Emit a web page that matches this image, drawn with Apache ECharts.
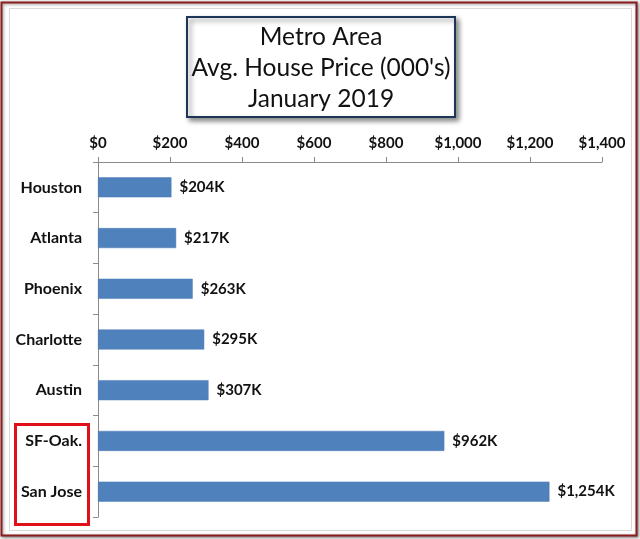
<!DOCTYPE html>
<html>
<head>
<meta charset="utf-8">
<script src="https://cdn.jsdelivr.net/npm/echarts@6/dist/echarts.min.js"></script>
<style>
  html, body { margin: 0; padding: 0; background: #f3f3f3; }
  #main { width: 640px; height: 539px; }
</style>
</head>
<body>
<div id="main"></div>
<script>
// data
var cities = ['Houston', 'Atlanta', 'Phoenix', 'Charlotte', 'Austin', 'SF-Oak.', 'San Jose'];
var prices = [204, 217, 263, 295, 307, 962, 1254];
var titleLines = ['Metro Area', "Avg. House Price (000's)", 'January 2019'];

var FONT = 'Lato, "Open Sans", sans-serif';

var myChart = echarts.init(document.getElementById('main'));

function money(v) {
  return '$' + v.toString().replace(/\B(?=(\d{3})+(?!\d))/g, ',');
}

var option = {
  backgroundColor: 'transparent',
  animation: false,
  grid: { left: 98, right: 38, top: 162, bottom: 22, containLabel: false },
  xAxis: {
    type: 'value',
    position: 'top',
    min: 0,
    max: 1400,
    interval: 200,
    axisLine: { show: true, lineStyle: { color: '#8a8a8a', width: 1 } },
    axisTick: { show: true, length: 5, lineStyle: { color: '#8a8a8a' } },
    splitLine: { show: false },
    axisLabel: {
      margin: 11,
      color: '#111',
      fontFamily: FONT,
      fontWeight: 'bold',
      fontSize: 15,
      formatter: function (v) { return money(v); }
    }
  },
  yAxis: {
    type: 'category',
    inverse: true,
    data: cities,
    axisLine: { show: true, lineStyle: { color: '#8a8a8a', width: 1 } },
    axisTick: { show: true, length: 5, lineStyle: { color: '#8a8a8a' } },
    axisLabel: {
      margin: 16,
      color: '#111',
      fontFamily: FONT,
      fontWeight: 'bold',
      fontSize: 16
    }
  },
  series: [{
    type: 'bar',
    data: prices,
    barWidth: 20,
    itemStyle: { color: '#4f81bd', borderColor: '#4a7ab3', borderWidth: 0.5 },
    label: {
      show: true,
      position: 'right',
      distance: 8,
      color: '#111',
      fontFamily: FONT,
      fontWeight: 'bold',
      fontSize: 15,
      formatter: function (p) { return money(p.value) + 'K'; }
    }
  }],
  graphic: [
    // outer dark red frame
    {
      type: 'rect', z: -10,
      shape: { x: 1.5, y: 2.5, width: 635, height: 533 },
      style: { fill: '#fff', stroke: '#8b1c1c', lineWidth: 2,
               shadowBlur: 3, shadowColor: 'rgba(0,0,0,0.45)', shadowOffsetX: 1, shadowOffsetY: 1 }
    },
    // inner chart area frame
    {
      type: 'rect', z: -9,
      shape: { x: 9.5, y: 8.5, width: 622, height: 522 },
      style: { fill: 'none', stroke: '#d9d9d9', lineWidth: 1 }
    },
    // title box
    {
      type: 'rect', z: 10,
      shape: { x: 187, y: 17, width: 268, height: 100 },
      style: { fill: '#fff', stroke: '#1f3557', lineWidth: 2,
               shadowBlur: 5, shadowColor: 'rgba(0,0,0,0.45)', shadowOffsetX: 3, shadowOffsetY: 3 }
    },
    {
      type: 'text', z: 11, x: 321, y: 37,
      style: { text: titleLines[0], fill: '#111', font: '24.5px ' + FONT, align: 'center', verticalAlign: 'middle' }
    },
    {
      type: 'text', z: 11, x: 321, y: 68,
      style: { text: titleLines[1], fill: '#111', font: '24.5px ' + FONT, align: 'center', verticalAlign: 'middle' }
    },
    {
      type: 'text', z: 11, x: 321, y: 99,
      style: { text: titleLines[2], fill: '#111', font: '24.5px ' + FONT, align: 'center', verticalAlign: 'middle' }
    },
    // red highlight around the two Bay Area labels
    {
      type: 'rect', z: 10,
      shape: { x: 15.5, y: 424.5, width: 73, height: 100 },
      style: { fill: 'none', stroke: '#e0101a', lineWidth: 3 }
    }
  ]
};

myChart.setOption(option);
</script>
</body>
</html>
